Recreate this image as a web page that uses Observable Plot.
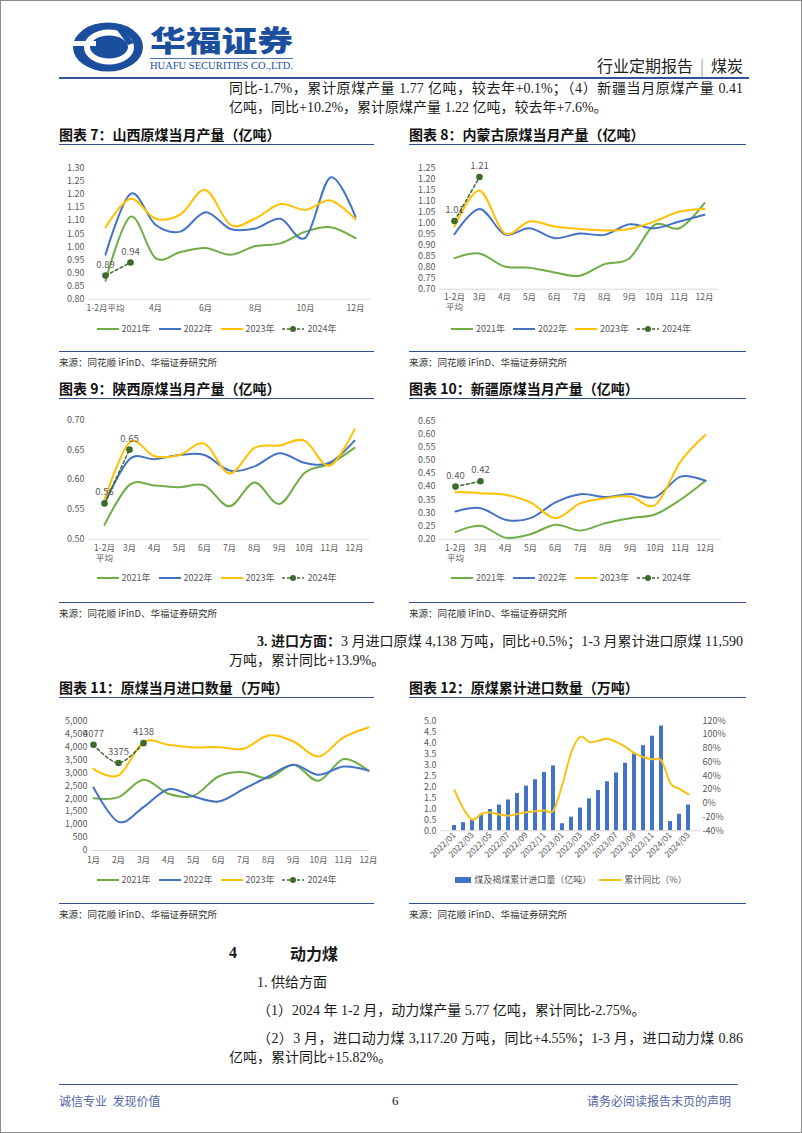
<!DOCTYPE html>
<html><head><meta charset="utf-8">
<script src="https://cdn.jsdelivr.net/npm/d3@7"></script>
<script src="https://cdn.jsdelivr.net/npm/@observablehq/plot@0.6"></script>
<style>
body{margin:0;background:#fff;}
#page{position:relative;width:802px;height:1133px;overflow:hidden;border:1px solid #8c8c8c;box-sizing:border-box;font-family:"Liberation Serif","Noto Sans CJK SC",serif;color:#1a1a1a;background:#fff;}
.abs{position:absolute;white-space:nowrap;}
.body{font-size:14px;line-height:20px;}
.just{text-align:justify;text-align-last:justify;white-space:normal;}
.title{font-family:"Noto Sans CJK SC",sans-serif;font-weight:bold;font-size:14px;line-height:18px;color:#111;}
.hline{position:absolute;height:0;border-top:1.5px solid #2f4f8f;}
.src{font-family:"Noto Sans CJK SC",sans-serif;font-size:9.5px;line-height:12px;color:#333;}
.legend{position:absolute;display:flex;justify-content:center;align-items:center;font-family:"Noto Sans CJK SC",sans-serif;font-size:9px;line-height:12px;color:#595959;height:12px;}
.legend .it{display:flex;align-items:center;margin:0 4px;}
.legend svg{margin-right:3px;}
</style>
</head><body>
<div id="page"></div>
<script>
// ---------- data ----------
const monthsProd = ["1-2月平均","3月","4月","5月","6月","7月","8月","9月","10月","11月","12月"];
const monthsImport = ["1月","2月","3月","4月","5月","6月","7月","8月","9月","10月","11月","12月"];
const yearNames = ["2021年","2022年","2023年","2024年"];

const shanxi2021 = [0.87,1.115,0.957,0.98,0.995,0.97,1.003,1.013,1.058,1.075,1.033];
const shanxi2022 = [0.97,1.202,1.084,1.058,1.132,1.068,1.07,1.107,1.035,1.265,1.115];
const shanxi2023 = [1.074,1.183,1.107,1.124,1.217,1.084,1.109,1.163,1.141,1.177,1.105];
const shanxi2024 = [0.89,0.94];
const shanxiTicks = [0.80,0.85,0.90,0.95,1.00,1.05,1.10,1.15,1.20,1.25,1.30];
const shanxiXLabels = ["1-2月平均","4月","6月","8月","10月","12月"];

const neimeng2021 = [0.841,0.862,0.803,0.798,0.776,0.761,0.814,0.841,0.992,0.977,1.091];
const neimeng2022 = [0.95,1.065,0.95,0.977,0.932,0.953,0.947,0.995,0.977,1.008,1.038];
const neimeng2023 = [0.985,1.148,0.955,1.008,0.985,0.974,0.967,0.974,1.008,1.053,1.065];
const neimeng2024 = [1.01,1.21];
const neimengTicks = [0.70,0.75,0.80,0.85,0.90,0.95,1.00,1.05,1.10,1.15,1.20,1.25];

const shaanxi2021 = [0.524,0.591,0.59,0.587,0.59,0.555,0.595,0.559,0.611,0.626,0.653];
const shaanxi2022 = [0.559,0.634,0.634,0.641,0.641,0.615,0.622,0.644,0.628,0.628,0.665];
const shaanxi2023 = [0.566,0.662,0.639,0.641,0.66,0.61,0.653,0.657,0.665,0.623,0.684];
const shaanxi2024 = [0.56,0.65];
const shaanxiTicks = [0.50,0.55,0.60,0.65,0.70];

const xinjiang2021 = [0.227,0.251,0.206,0.219,0.255,0.233,0.261,0.28,0.295,0.35,0.422];
const xinjiang2022 = [0.305,0.318,0.274,0.28,0.34,0.371,0.36,0.372,0.36,0.438,0.422];
const xinjiang2023 = [0.379,0.375,0.369,0.34,0.28,0.337,0.356,0.362,0.331,0.495,0.597];
const xinjiang2024 = [0.40,0.42];
const xinjiangTicks = [0.20,0.25,0.30,0.35,0.40,0.45,0.50,0.55,0.60,0.65];

const import2021 = [2018,2057,2725,2185,2108,2853,3020,2789,3303,2686,3522,3072];
const import2022 = [2429,1105,1671,2365,2082,1889,2365,2853,3303,2918,3239,3085];
const import2023 = [3149,2892,4177,4075,3972,3985,3920,4434,4203,3625,4357,4743];
const import2024 = [4077,3375,4138];
const importTicks = [0,500,1000,1500,2000,2500,3000,3500,4000,4500,5000];

const cumMonths = ["2022/01","2022/02","2022/03","2022/04","2022/05","2022/06","2022/07","2022/08","2022/09","2022/10","2022/11","2022/12",
  "2023/01","2023/02","2023/03","2023/04","2023/05","2023/06","2023/07","2023/08","2023/09","2023/10","2023/11","2023/12",
  "2024/01","2024/02","2024/03"];
const cumImport = [0.24,0.37,0.49,0.74,0.97,1.17,1.40,1.69,2.03,2.32,2.65,2.95,
  0.32,0.62,1.03,1.45,1.83,2.23,2.63,3.07,3.49,3.87,4.30,4.76,
  0.42,0.75,1.17];
const cumYoY = [19,-8,-24,-15.5,-13.5,-16.5,-18,-15.5,-13,-11.5,-10.5,-10.5,
  28,75,97,89,91,94,89,82,73,67,64,62,
  29,21,13];
const cumLeftTicks = [0,0.5,1,1.5,2,2.5,3,3.5,4,4.5,5];
const cumRightTicks = [-40,-20,0,20,40,60,80,100,120];
const cumXLabels = ["2022/01","2022/03","2022/05","2022/07","2022/09","2022/11","2023/01","2023/03","2023/05","2023/07","2023/09","2023/11","2024/01","2024/03"];

// ---------- styles ----------
const C21 = "#70ad47", C22 = "#4472c4", C23 = "#ffc000", C24 = "#3e6b2d";
const page = document.getElementById("page");
const FONT = '"Noto Sans CJK SC", sans-serif';

function el(html, left, top, cls, extra) {
  const d = document.createElement("div");
  d.className = "abs " + (cls || "");
  d.style.left = left + "px"; d.style.top = top + "px";
  if (extra) Object.assign(d.style, extra);
  d.innerHTML = html;
  page.appendChild(d);
  return d;
}
function hline(x1, x2, y, color, w) {
  const d = document.createElement("div");
  d.className = "hline";
  d.style.left = x1 + "px"; d.style.top = y + "px"; d.style.width = (x2 - x1) + "px";
  d.style.borderTop = (w || 1.5) + "px solid " + (color || "#2f4f8f");
  page.appendChild(d);
}

// ---------- header ----------
el(`<svg width="802" height="80">
  <g transform="translate(107,46)">
    <ellipse rx="35" ry="24.5" fill="#1b4f9e"/>
    <ellipse cx="1" cy="0" rx="22" ry="14.5" fill="none" stroke="#fff" stroke-width="6"/>
    <path d="M-36,-6 L-12,-6 L-12,-1 L-36,-1 Z" fill="#fff"/>
    <path d="M0,-10 L13,0 L0,10 L-13,0 Z" fill="#1b4f9e"/>
    <path d="M14,-20 L26,-4 L20,-2 L9,-17 Z" fill="#1b4f9e"/>
  </g>
  <text x="149" y="51" textLength="143" lengthAdjust="spacingAndGlyphs" font-size="29" font-weight="900" fill="#1b4f9e" font-family='"Noto Sans CJK SC"'>华福证券</text>
  <line x1="149" x2="292" y1="57.5" y2="57.5" stroke="#1b4f9e" stroke-width="0.8"/>
  <text x="149" y="68" textLength="143" lengthAdjust="spacingAndGlyphs" font-size="10" fill="#1b4f9e" font-family='"Liberation Serif"'>HUAFU SECURITIES CO.,LTD.</text>
</svg>`, 0, 0);
el(`行业定期报告<span style="color:#777;margin:0 7px;font-weight:300">|</span>煤炭`, 596, 54, "", {fontFamily:FONT, fontSize:"16px", lineHeight:"20px", color:"#222"});
hline(58, 748, 76, "#2e5596", 2);

el("同比-1.7%，累计原煤产量 1.77 亿吨，较去年+0.1%；（4）新疆当月原煤产量 0.41", 228, 78, "body just", {width:"514px"});
el("亿吨，同比+10.2%，累计原煤产量 1.22 亿吨，较去年+7.6%。", 228, 97, "body");

// ---------- chart helpers ----------
const plotStyle = {fontFamily: FONT, fontSize: "9px", color: "#595959", background: "transparent", overflow: "visible"};

function lineChart(o) {
  const cats = o.cats;
  const xf = (d, i) => cats[i];
  const marks = [
    Plot.ruleY([o.yDomain[0]], {stroke: "#d9d9d9", strokeWidth: 1}),
    Plot.axisY({ticks: o.yTicks, tickSize: 0, tickPadding: 4, tickFormat: o.yFmt, label: null}),
    Plot.axisX({ticks: o.xTicks || cats, tickSize: 0, tickPadding: o.tpx, tickFormat: o.xFmt || (d => d), label: null, lineHeight: 1.15, fontSize: 8.5})
  ];
  o.series.forEach(s => marks.push(Plot.line(s.values, {x: xf, y: d => d, stroke: s.color, strokeWidth: 2, curve: "cardinal"})));
  marks.push(Plot.line(o.last, {x: xf, y: d => d, stroke: C24, strokeWidth: 1.5, strokeDasharray: "3,2.5", curve: "cardinal"}));
  marks.push(Plot.dot(o.last, {x: xf, y: d => d, r: 3.3, fill: C24}));
  marks.push(Plot.text(o.last, {x: xf, y: d => d, text: o.lblFmt, dy: -11, fill: "#595959", fontSize: 9.5}));
  const svg = Plot.plot({
    width: o.w, height: o.h, marginTop: o.mt, marginRight: o.mr, marginBottom: o.mb, marginLeft: o.ml,
    x: {type: "point", domain: cats, padding: o.pad},
    y: {domain: o.yDomain},
    style: plotStyle,
    marks
  });
  const d = el("", o.left, o.top, "", {width: o.w + "px", height: o.h + "px"});
  d.appendChild(svg);
}

function swatch(type, color) {
  if (type === "rect") return `<svg width="16" height="8"><rect x="0" y="1" width="16" height="6" fill="${color}"/></svg>`;
  if (type === "dash") return `<svg width="22" height="8"><line x1="0" x2="22" y1="4" y2="4" stroke="${color}" stroke-width="1.5" stroke-dasharray="3,2"/><circle cx="11" cy="4" r="3" fill="${color}"/></svg>`;
  return `<svg width="22" height="8"><line x1="0" x2="22" y1="4" y2="4" stroke="${color}" stroke-width="2"/></svg>`;
}
function legend(items, left, cy, width) {
  const d = document.createElement("div");
  d.className = "legend";
  d.style.left = left + "px"; d.style.top = (cy - 6) + "px"; d.style.width = width + "px";
  d.innerHTML = items.map(it => `<div class="it">${swatch(it.type, it.color)}<span>${it.label}</span></div>`).join("");
  page.appendChild(d);
}
const yearLegend = [
  {label: yearNames[0], type: "line", color: C21},
  {label: yearNames[1], type: "line", color: C22},
  {label: yearNames[2], type: "line", color: C23},
  {label: yearNames[3], type: "dash", color: C24}
];
const twoLine = d => d === "1-2月平均" ? "1-2月\n平均" : d;
const f2 = d3.format(".2f");

// ---------- titles & frames ----------
function frame(x1, x2, titleText, titleCy, srcLineY) {
  el(titleText, x1, titleCy - 9, "title");
  hline(x1, x2, titleCy + 10);
  hline(x1, x2, srcLineY);
  el("来源：同花顺 iFinD、华福证券研究所", x1, srcLineY + 5, "src");
}
frame(58, 373, "图表 7：山西原煤当月产量（亿吨）", 133, 350);
frame(408, 745, "图表 8：内蒙古原煤当月产量（亿吨）", 133, 350);
frame(58, 373, "图表 9：陕西原煤当月产量（亿吨）", 387, 601);
frame(408, 745, "图表 10：新疆原煤当月产量（亿吨）", 387, 601);
frame(58, 373, "图表 11：原煤当月进口数量（万吨）", 686, 902);
frame(408, 745, "图表 12：原煤累计进口数量（万吨）", 686, 902);

// ---------- chart 7 ----------
lineChart({left: 40, top: 150, w: 335, h: 173, mt: 16.7, mr: 5, mb: 25.3, ml: 47, pad: 0.5, tpx: 5,
  cats: monthsProd, xTicks: shanxiXLabels, yDomain: [0.80, 1.30], yTicks: shanxiTicks, yFmt: f2,
  series: [{values: shanxi2021, color: C21}, {values: shanxi2022, color: C22}, {values: shanxi2023, color: C23}],
  last: shanxi2024, lblFmt: d => f2(d)});
legend(yearLegend, 58, 328, 315);

// ---------- chart 8 ----------
lineChart({left: 390, top: 150, w: 355, h: 173, mt: 16.7, mr: 28, mb: 35.3, ml: 48, pad: 0.5, tpx: 4,
  cats: monthsProd, xFmt: twoLine, yDomain: [0.70, 1.25], yTicks: neimengTicks, yFmt: f2,
  series: [{values: neimeng2021, color: C21}, {values: neimeng2022, color: C22}, {values: neimeng2023, color: C23}],
  last: neimeng2024, lblFmt: d => f2(d)});
legend(yearLegend, 405, 328, 330);

// ---------- chart 9 ----------
lineChart({left: 40, top: 400, w: 335, h: 173, mt: 18.3, mr: 7, mb: 35.3, ml: 47, pad: 0.5, tpx: 5,
  cats: monthsProd, xFmt: twoLine, yDomain: [0.50, 0.70], yTicks: shaanxiTicks, yFmt: f2,
  series: [{values: shaanxi2021, color: C21}, {values: shaanxi2022, color: C22}, {values: shaanxi2023, color: C23}],
  last: shaanxi2024, lblFmt: d => f2(d)});
legend(yearLegend, 58, 577, 315);

// ---------- chart 10 ----------
lineChart({left: 390, top: 400, w: 355, h: 173, mt: 19.3, mr: 25, mb: 35.3, ml: 48, pad: 0.5, tpx: 5,
  cats: monthsProd, xFmt: twoLine, yDomain: [0.20, 0.65], yTicks: xinjiangTicks, yFmt: f2,
  series: [{values: xinjiang2021, color: C21}, {values: xinjiang2022, color: C22}, {values: xinjiang2023, color: C23}],
  last: xinjiang2024, lblFmt: d => f2(d)});
legend(yearLegend, 405, 577, 330);

// ---------- chart 11 ----------
lineChart({left: 40, top: 700, w: 340, h: 172, mt: 19.3, mr: 12, mb: 23, ml: 50, pad: 0, tpx: 6,
  cats: monthsImport, yDomain: [0, 5000], yTicks: importTicks, yFmt: d3.format(","),
  series: [{values: import2021, color: C21}, {values: import2022, color: C22}, {values: import2023, color: C23}],
  last: import2024, lblFmt: d => String(d)});
legend(yearLegend, 58, 879, 315);

// ---------- chart 12 ----------
{
  const toLeft = p => (p + 40) / 32;
  const xf = (d, i) => cumMonths[i];
  const svg = Plot.plot({
    width: 350, height: 172, marginTop: 19.3, marginRight: 45, marginBottom: 42.7, marginLeft: 44,
    x: {type: "band", domain: cumMonths, paddingInner: 0.58, paddingOuter: 0.35},
    y: {domain: [0, 5]},
    style: plotStyle,
    marks: [
      Plot.barY(cumImport, {x: xf, y: d => d, fill: "#4472c4"}),
      Plot.ruleY([0], {stroke: "#d9d9d9"}),
      Plot.line(cumYoY, {x: xf, y: d => toLeft(d), stroke: "#f5c21b", strokeWidth: 2, curve: "cardinal"}),
      Plot.axisY({ticks: cumLeftTicks, tickSize: 0, tickPadding: 4, tickFormat: d3.format(".1f"), label: null}),
      Plot.axisY(cumRightTicks.map(toLeft), {anchor: "right", tickSize: 0, tickPadding: 1, tickFormat: d => Math.round(d * 32 - 40) + "%", label: null}),
      Plot.axisX({ticks: cumXLabels, tickSize: 0, tickPadding: 3, tickRotate: -45, label: null, fontSize: 8.5})
    ]
  });
  const d = el("", 395, 700, "", {width: "350px", height: "172px"});
  d.appendChild(svg);
  legend([{label: "煤及褐煤累计进口量（亿吨）", type: "rect", color: "#4472c4"}, {label: "累计同比（%）", type: "line", color: "#f5c21b"}], 405, 879, 330);
}

// ---------- body text ----------
el(`<b style="font-family:'Liberation Serif','Noto Sans CJK SC';">3. 进口方面：</b>3 月进口原煤 4,138 万吨，同比+0.5%；1-3 月累计进口原煤 11,590`, 256, 631, "body just", {width: "486px"});
el("万吨，累计同比+13.9%。", 228, 650, "body");

el(`<b>4</b>`, 228, 941, "body", {fontSize: "16px", lineHeight: "22px"});
el(`<b>动力煤</b>`, 289, 941, "body", {fontSize: "16px", lineHeight: "22px", fontFamily: FONT});
el("1. 供给方面", 256, 972, "body");
el("（1）2024 年 1-2 月，动力煤产量 5.77 亿吨，累计同比-2.75%。", 256, 1000, "body");
el("（2）3 月，进口动力煤 3,117.20 万吨，同比+4.55%；1-3 月，进口动力煤 0.86", 256, 1028, "body just", {width: "486px"});
el("亿吨，累计同比+15.82%。", 228, 1047, "body");

// ---------- footer ----------
hline(58, 737, 1083, "#3b5a9a", 1.5);
el("诚信专业&nbsp;&nbsp;发现价值", 58, 1092, "", {fontFamily: FONT, fontSize: "12px", lineHeight: "16px", color: "#5566a6"});
el("6", 391, 1092, "", {fontSize: "13px", lineHeight: "16px", color: "#111"});
el("请务必阅读报告末页的声明", 586, 1092, "", {fontFamily: FONT, fontSize: "12px", lineHeight: "16px", color: "#5566a6"});
</script>
</body></html>
